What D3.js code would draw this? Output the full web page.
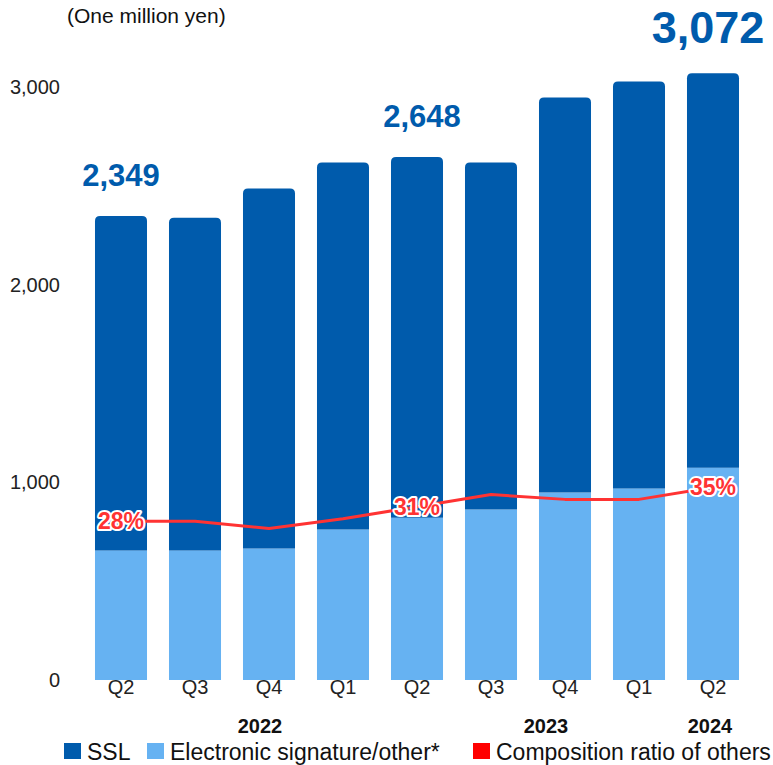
<!DOCTYPE html>
<html>
<head>
<meta charset="utf-8">
<script src="https://cdn.jsdelivr.net/npm/d3@7"></script>
<style>
  html, body { margin: 0; padding: 0; background: #fff; }
  svg { display: block; font-family: "Liberation Sans", Arial, sans-serif; }
</style>
</head>
<body>
<svg id="chart" width="773" height="765"></svg>
<script>
// Quarterly sales by product line (one million yen)
const quarters = ["Q2", "Q3", "Q4", "Q1", "Q2", "Q3", "Q4", "Q1", "Q2"];
const years = ["2022", "2023", "2024"];
const yearQuarterIndex = [2, 6, 8];           // quarter the year label sits under
const sslValues   = [1693, 1684, 1823, 1858, 1827, 1757, 2000, 2060, 1997];
const otherValues = [656, 656, 666, 762, 821, 863, 949, 970, 1075];
const ratioValues = [0.28, 0.28, 0.265, 0.285, 0.31, 0.335, 0.325, 0.325, 0.35];
const totalLabelIndex = [0, 4, 8];
const ratioLabelIndex = [0, 4, 8];
const yTicks = [0, 1000, 2000, 3000];
const legendItems = ["SSL", "Electronic signature/other*", "Composition ratio of others"];

const C_SSL = "#005BAC", C_OTHER = "#66B2F2", C_RATIO = "#FF3333";

const svg = d3.select("#chart");
const ids = quarters.map((q, i) => i);

const x = d3.scaleBand().domain(ids).range([84, 750])
  .paddingInner(0.297).paddingOuter(0.1485);
const y = d3.scaleLinear().domain([0, 3000]).range([680, 87.5]);
const y2 = d3.scaleLinear().domain([0.2, 0.4]).range([560, 463]);

// Y axis labels (no line, no ticks)
const yAxis = d3.axisLeft(y).tickValues(yTicks).tickSize(0).tickPadding(0)
  .tickFormat(d3.format(","));
const ga = svg.append("g").attr("transform", "translate(60,0)").call(yAxis);
ga.select(".domain").remove();
ga.selectAll("text").attr("font-size", 20).attr("fill", "#222")
  .attr("font-family", "Liberation Sans, Arial, sans-serif");

// Unit caption
svg.append("text").attr("x", 67).attr("y", 23).attr("font-size", 21)
  .attr("fill", "#111").text("(One million yen)");

// Stacked bars: "other" at the bottom, SSL above with rounded top corners
const stackData = ids.map(i => ({ i, other: otherValues[i], ssl: sslValues[i] }));
const series = d3.stack().keys(["other", "ssl"])(stackData);

function topRounded(x0, y0, w, h, r) {
  r = Math.min(r, h, w / 2);
  return `M${x0},${y0 + h}V${y0 + r}Q${x0},${y0} ${x0 + r},${y0}` +
         `H${x0 + w - r}Q${x0 + w},${y0} ${x0 + w},${y0 + r}V${y0 + h}Z`;
}

svg.append("g").selectAll("rect").data(series[0]).join("rect")
  .attr("x", d => x(d.data.i)).attr("width", x.bandwidth())
  .attr("y", d => y(d[1])).attr("height", d => y(d[0]) - y(d[1]))
  .attr("fill", C_OTHER);

svg.append("g").selectAll("path").data(series[1]).join("path")
  .attr("d", d => topRounded(x(d.data.i), y(d[1]), x.bandwidth(), y(d[0]) - y(d[1]), 5))
  .attr("fill", C_SSL);

// Totals above selected bars
const totalFmt = d3.format(",");
const totalSize = [31, 31, 45];
const totalDx = [0, 5, -5];
svg.append("g").selectAll("text").data(totalLabelIndex).join("text")
  .attr("x", (d, k) => x(d) + x.bandwidth() / 2 + totalDx[k])
  .attr("y", d => y(sslValues[d] + otherValues[d]) - 30)
  .attr("text-anchor", "middle").attr("font-weight", "bold")
  .attr("font-size", (d, k) => totalSize[k]).attr("fill", C_SSL)
  .text(d => totalFmt(sslValues[d] + otherValues[d]));

// Composition ratio line
const line = d3.line().x(d => x(d) + x.bandwidth() / 2).y(d => y2(ratioValues[d]));
svg.append("path").datum(ids).attr("d", line)
  .attr("fill", "none").attr("stroke", C_RATIO).attr("stroke-width", 3)
  .attr("stroke-linejoin", "round");

// Ratio labels with white halo
const pct = d3.format(".0%");
svg.append("g").selectAll("text").data(ratioLabelIndex).join("text")
  .attr("x", d => x(d) + x.bandwidth() / 2)
  .attr("y", d => y2(ratioValues[d]) + 8)
  .attr("text-anchor", "middle").attr("font-weight", "bold").attr("font-size", 23)
  .attr("fill", C_RATIO).attr("stroke", "#fff").attr("stroke-width", 4)
  .attr("paint-order", "stroke").attr("stroke-linejoin", "round")
  .text(d => pct(ratioValues[d]));

// Quarter labels
svg.append("g").selectAll("text").data(ids).join("text")
  .attr("x", d => x(d) + x.bandwidth() / 2).attr("y", 694)
  .attr("text-anchor", "middle").attr("font-size", 20).attr("fill", "#222")
  .text(d => quarters[d]);

// Year labels
const yearDx = [-9, -19, -3];
svg.append("g").selectAll("text").data(years).join("text")
  .attr("x", (d, k) => x(yearQuarterIndex[k]) + x.bandwidth() / 2 + yearDx[k])
  .attr("y", 733).attr("text-anchor", "middle").attr("font-weight", "bold")
  .attr("font-size", 20).attr("fill", "#111")
  .text(d => d);

// Legend
const legendColors = [C_SSL, C_OTHER, "#FF0000"];
const legendX = [64, 147, 473];
const lg = svg.append("g").selectAll("g").data(legendItems).join("g")
  .attr("transform", (d, k) => `translate(${legendX[k]},0)`);
lg.append("rect").attr("x", 0).attr("y", 743).attr("width", 17).attr("height", 16)
  .attr("fill", (d, k) => legendColors[k]);
lg.append("text").attr("x", 23).attr("y", 760).attr("font-size", 23)
  .attr("fill", "#111").text(d => d);
</script>
</body>
</html>
